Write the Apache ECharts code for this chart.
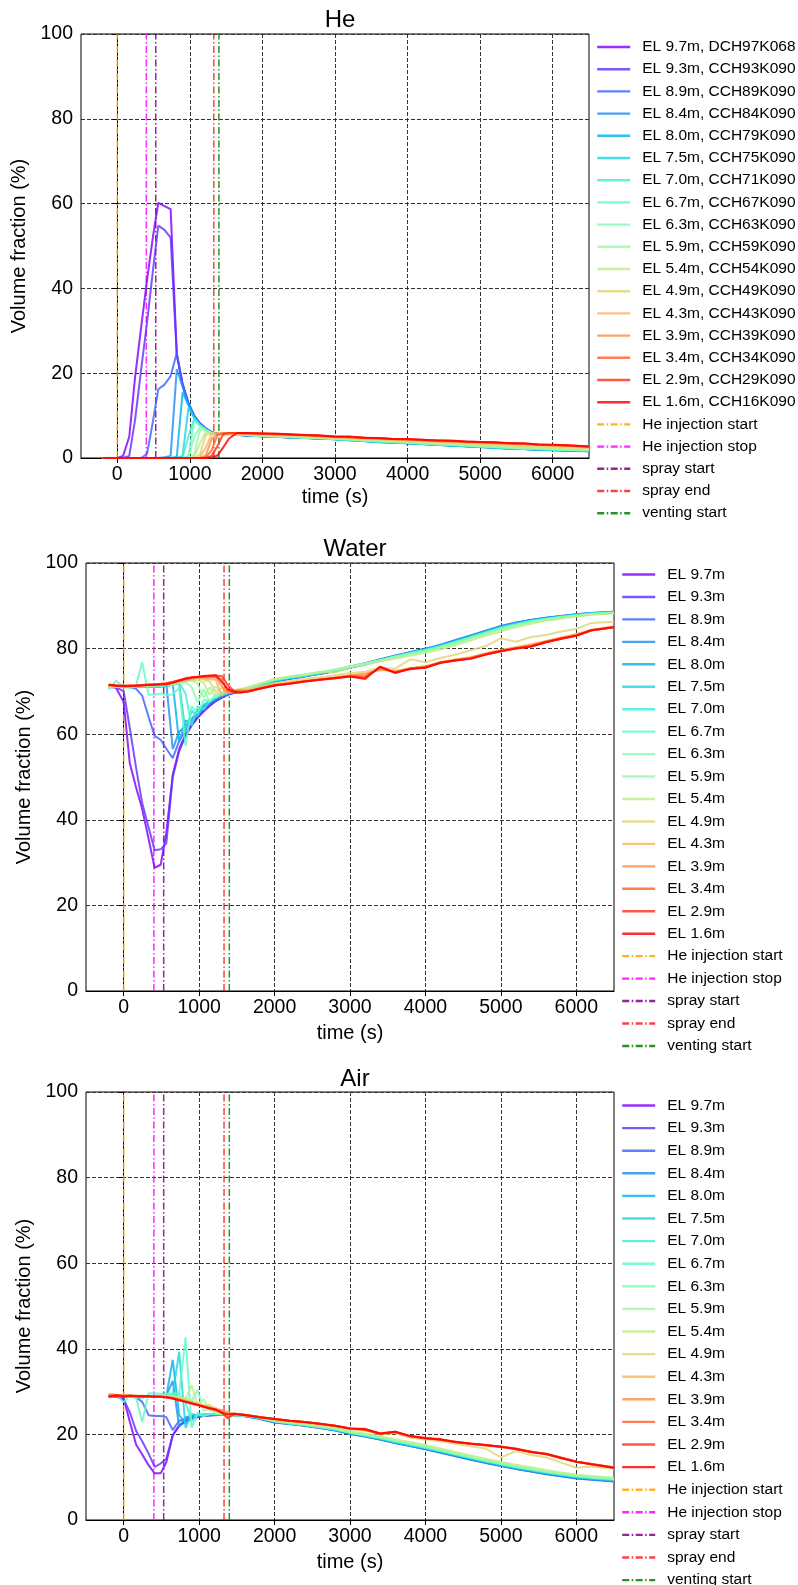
<!DOCTYPE html>
<html><head><meta charset="utf-8">
<script src="https://cdn.jsdelivr.net/npm/echarts@6/dist/echarts.min.js"></script>
<style>html,body{margin:0;padding:0;background:#fff}#c{width:798px;height:1585px}</style>
</head><body><div id="c"></div>
<script>
// ---------------- data ----------------
const time = [-200,-100,0,80,165,245,330,410,490,565,650,735,820,900,980,1060,1140,1220,1300,1380,1460,1540,
  1650,1800,2000,2200,2400,2600,2800,3000,3200,3400,3600,3800,4000,4200,4400,4600,4800,5000,5200,5400,5600,5800,6000,6200,6500];
const xTicks = [0,1000,2000,3000,4000,5000,6000];
const heights = ['9.7m','9.3m','8.9m','8.4m','8.0m','7.5m','7.0m','6.7m','6.3m','5.9m','5.4m','4.9m','4.3m','3.9m','3.4m','2.9m','1.6m'];
const heSensors = ['DCH97K068','CCH93K090','CCH89K090','CCH84K090','CCH79K090','CCH75K090','CCH71K090','CCH67K090','CCH63K090','CCH59K090','CCH54K090','CCH49K090','CCH43K090','CCH39K090','CCH34K090','CCH29K090','CCH16K090'];
const eventNames = ['He injection start','He injection stop','spray start','spray end','venting start'];
const eventTimes = [0,400,530,1330,1400];
const panelTitles = ['He','Water','Air'];

// He volume fraction (%)
const he97 = [0,0,0,0.5,5,19,31,42,52,60.2,59.4,58.7,24.5,17.5,13,10,8.2,7,6.1,5.7,5.5,5.6, 5.5,5.3,5.1,5.0,4.9,4.8,4.6,4.5,4.3,4.1,3.9,3.7,3.6,3.4,3.2,3.0,2.9,2.7,2.5,2.3,2.2,2.0,1.9,1.8,1.7];
const he93 = [0,0,0,0,0.5,9,21,32,44,54.8,53.8,52,24.2,17.3,12.9,9.9,8.1,6.9,6.1,5.7,5.5,5.6, 5.5,5.3,5.2,5.0,4.9,4.7,4.6,4.5,4.3,4.1,3.9,3.8,3.6,3.4,3.2,3.0,2.9,2.7,2.5,2.4,2.2,2.0,1.9,1.8,1.7];
const he89 = [0,0,0,0,0,0,0,1,8.5,16.2,17.3,19.3,24.8,17.2,12.8,9.8,8,6.9,6,5.7,5.5,5.5, 5.5,5.3,5.1,5.0,4.8,4.7,4.6,4.4,4.3,4.0,3.8,3.7,3.5,3.3,3.1,3.0,2.8,2.6,2.5,2.3,2.1,2.0,1.9,1.8,1.6];
const he84 = [0,0,0,0,0,0,0,0,0,0,0.2,0.5,21,16.8,12.7,9.7,8,6.8,6,5.6,5.5,5.5, 5.4,5.3,5.1,5.0,4.8,4.7,4.6,4.4,4.2,4.0,3.8,3.6,3.5,3.3,3.1,2.9,2.8,2.6,2.4,2.2,2.1,1.9,1.8,1.7,1.6];
const he80 = [0,0,0,0,0,0,0,0,0,0,0,0,0.3,15.5,12.5,9.6,7.9,6.8,6,5.6,5.5,5.5, 5.5,5.3,5.1,5.0,4.9,4.7,4.6,4.4,4.2,4.0,3.7,3.6,3.5,3.3,3.1,2.9,2.8,2.6,2.4,2.2,2.1,2.0,1.9,1.8,1.6];
const he75 = [0,0,0,0,0,0,0,0,0,0,0,0,0,0.5,11.8,9.5,7.8,6.7,5.9,5.6,5.5,5.5, 5.5,5.3,5.1,5.0,4.9,4.8,4.6,4.5,4.2,4.0,3.8,3.7,3.5,3.3,3.2,3.0,2.8,2.6,2.5,2.3,2.1,2.0,1.9,1.8,1.7];
const he70 = [0,0,0,0,0,0,0,0,0,0,0,0,0,0.2,5,9.3,7.7,6.7,5.9,5.6,5.5,5.5, 5.5,5.4,5.2,5.0,4.9,4.8,4.6,4.5,4.3,4.1,3.9,3.7,3.6,3.4,3.2,3.0,2.9,2.7,2.5,2.3,2.2,2.1,2.0,1.9,1.7];
const he67 = [0,0,0,0,0,0,0,0,0,0,0,0,0,0,0.5,8.8,7.6,6.6,5.9,5.6,5.5,5.5, 5.5,5.4,5.2,5.1,4.9,4.8,4.7,4.5,4.3,4.1,3.9,3.8,3.6,3.4,3.2,3.1,2.9,2.7,2.6,2.4,2.2,2.1,2.0,1.9,1.8];
const he63 = [0,0,0,0,0,0,0,0,0,0,0,0,0,0,0.2,5,7.4,6.5,5.8,5.6,5.5,5.5, 5.6,5.4,5.2,5.1,5.0,4.8,4.7,4.5,4.4,4.2,4.0,3.8,3.7,3.5,3.3,3.1,3.0,2.8,2.6,2.5,2.3,2.2,2.1,2.0,1.8];
const he59 = [0,0,0,0,0,0,0,0,0,0,0,0,0,0,0,0.8,6.8,6.4,5.8,5.6,5.5,5.5, 5.6,5.4,5.3,5.1,5.0,4.9,4.7,4.6,4.4,4.2,4.0,3.9,3.7,3.5,3.4,3.2,3.0,2.9,2.7,2.5,2.4,2.3,2.1,2.0,1.9];
const he54 = [0,0,0,0,0,0,0,0,0,0,0,0,0,0,0,0.2,3.5,6.2,5.8,5.6,5.5,5.5, 5.6,5.5,5.3,5.2,5.0,4.9,4.8,4.6,4.5,4.3,4.1,4.0,3.8,3.7,3.5,3.3,3.2,3.0,2.9,2.7,2.6,2.4,2.3,2.2,2.0];
const he49 = [0,0,0,0,0,0,0,0,0,0,0,0,0,0,0,0,0.8,5.5,5.8,5.7,5.6,5.6, 5.7,5.6,5.4,5.3,5.2,5.0,4.9,4.8,4.6,4.5,4.3,4.2,4.0,3.9,3.7,3.6,3.4,3.3,3.1,3.0,2.8,2.7,2.6,2.5,2.3];
const he43 = [0,0,0,0,0,0,0,0,0,0,0,0,0,0,0,0,0.2,2.5,5.6,5.8,5.7,5.7, 5.8,5.7,5.6,5.5,5.4,5.2,5.1,4.9,4.8,4.6,4.5,4.3,4.2,4.1,3.9,3.8,3.7,3.5,3.4,3.3,3.1,3.0,2.9,2.8,2.5];
const he39 = [0,0,0,0,0,0,0,0,0,0,0,0,0,0,0,0,0,0.6,4.5,5.8,5.8,5.8, 5.8,5.8,5.7,5.6,5.5,5.3,5.2,5.0,4.9,4.7,4.6,4.4,4.3,4.2,4.0,3.9,3.8,3.7,3.5,3.4,3.3,3.1,3.0,2.9,2.6];
const he34 = [0,0,0,0,0,0,0,0,0,0,0,0,0,0,0,0,0,0.2,1.8,5.5,5.9,5.9, 5.9,5.8,5.7,5.6,5.5,5.4,5.2,5.0,5.0,4.8,4.6,4.5,4.4,4.2,4.1,4.0,3.8,3.7,3.6,3.5,3.3,3.2,3.0,2.9,2.7];
const he29 = [0,0,0,0,0,0,0,0,0,0,0,0,0,0,0,0,0,0,0.5,2.8,5.6,5.9, 5.9,5.9,5.8,5.7,5.5,5.4,5.3,5.1,4.9,4.8,4.7,4.5,4.4,4.3,4.1,4.0,3.9,3.8,3.6,3.5,3.4,3.2,3.1,3.0,2.7];
const he16 = [0,0,0,0,0,0,0,0,0,0,0,0,0,0,0,0,0,0,0.1,0.6,2.5,4.6, 5.9,5.9,5.8,5.7,5.6,5.4,5.3,5.0,5.1,4.8,4.7,4.5,4.5,4.3,4.1,4.1,3.9,3.8,3.8,3.5,3.5,3.2,3.1,3.0,2.7];

// Water volume fraction (%)
const w97 = [71.2,70.8,67.5,53.3,47.5,42.5,35.5,28.8,29.5,37,50.5,56.5,60,62.2,64,65.5,66.7,67.8,68.6,69.3,69.7,69.9, 70.6,71.3,72.4,73.0,73.6,74.1,74.7,75.6,76.4,77.3,78.2,79.0,79.8,80.7,81.8,82.9,84.0,85.1,85.9,86.6,87.1,87.5,87.9,88.2,88.5];
const w93 = [71.0,71.0,70.0,61.5,52,43.9,38.2,32.9,33.1,34.5,50,56,59.6,62,63.8,65.3,66.6,67.7,68.5,69.2,69.6,69.9, 70.6,71.3,72.3,72.9,73.5,74.1,74.7,75.5,76.3,77.2,78.1,78.9,79.7,80.6,81.7,82.8,83.9,85.0,85.8,86.5,87.0,87.4,87.8,88.1,88.4];
const w89 = [71.1,71.2,71.0,71.0,70.6,69,64,59.6,58.7,56.6,54.4,58.4,61,63,64.7,66,67.1,68,68.7,69.3,69.7,69.9, 70.7,71.4,72.5,73.1,73.7,74.3,74.9,75.8,76.6,77.5,78.4,79.2,80.0,80.9,82.0,83.1,84.2,85.3,86.1,86.7,87.2,87.6,88.0,88.3,88.6];
const w84 = [71.0,71.1,71.0,71.1,71.0,71.1,71.1,71.0,71.2,71.8,56.5,60.5,62,63.6,65.2,66.4,67.3,68.2,68.9,69.4,69.8,70.0, 70.7,71.4,72.4,73.1,73.7,74.2,74.8,75.7,76.5,77.4,78.3,79.1,79.9,80.8,81.9,83.0,84.1,85.2,86.0,86.7,87.2,87.6,88.0,88.3,88.6];
const w80 = [71.2,71.0,71.1,71.0,71.2,71.1,71.0,71.2,71.1,71.3,71.8,58.2,63.2,62.5,65.5,66.6,67.5,68.3,69.0,69.5,69.8,70.0, 70.6,71.3,72.4,73.0,73.6,74.2,74.8,75.6,76.4,77.3,78.2,79.0,79.8,80.7,81.8,82.9,84.0,85.1,85.9,86.6,87.1,87.5,87.9,88.2,88.5];
const w75 = [71.0,71.1,71.2,71.1,71.0,71.2,71.1,71.0,71.2,71.2,71.6,71.8,60.5,65.5,64.2,66.9,67.8,68.5,69.2,69.6,69.9,70.1, 70.7,71.4,72.5,73.1,73.6,74.2,74.8,75.6,76.4,77.3,78.2,79.0,79.8,80.7,81.7,82.8,83.9,85.0,85.8,86.5,87.0,87.5,87.9,88.2,88.5];
const w70 = [70.8,71.0,71.2,71.0,71.1,71.0,71.2,71.1,71.3,71.3,71.5,72.0,69.5,62,66.5,65.8,67.7,68.6,69.2,69.6,70.0,70.2, 70.8,71.5,72.6,73.2,73.7,74.3,74.9,75.7,76.5,77.3,78.2,79.0,79.7,80.6,81.6,82.7,83.8,84.9,85.7,86.4,87.0,87.4,87.8,88.2,88.5];
const w67 = [70.5,72.5,71.0,70.8,71.5,76.8,69.2,69.2,69.5,69.2,69.3,70.8,57.2,66.5,64.8,68.0,67.8,69.0,69.5,69.8,70.0,70.2, 70.8,71.6,72.7,73.3,73.8,74.4,75.0,75.8,76.5,77.3,78.1,78.9,79.6,80.5,81.5,82.6,83.7,84.8,85.6,86.4,86.9,87.4,87.8,88.1,88.4];
const w63 = [71.0,71.1,71.0,71.2,71.1,71.3,71.2,71.4,71.3,71.5,71.6,72.0,72.2,71.0,67.5,70.5,67.6,69.3,69.7,70.0,70.1,70.3, 70.9,71.7,72.8,73.4,73.9,74.5,75.1,75.8,76.5,77.3,78.1,78.8,79.5,80.4,81.4,82.5,83.6,84.7,85.5,86.3,86.9,87.3,87.7,88.1,88.4];
const w59 = [71.1,71.0,71.2,71.1,71.2,71.3,71.3,71.4,71.5,71.5,71.7,72.0,72.3,72.5,71.8,68.5,71.0,68.6,69.8,70.0,70.2,70.4, 70.9,71.7,72.8,73.5,74.0,74.5,75.0,75.8,76.4,77.2,77.9,78.6,79.3,80.2,81.2,82.3,83.4,84.5,85.3,86.1,86.7,87.2,87.6,88.0,88.3];
const w54 = [71.0,71.2,71.1,71.2,71.3,71.2,71.4,71.4,71.5,71.6,71.8,72.1,72.4,72.6,72.6,72.0,69.2,71.2,69.5,70.2,70.3,70.5, 71.0,71.8,72.9,73.4,73.9,74.6,74.4,75.6,76.2,77.0,77.6,78.3,79.0,79.8,80.8,81.9,83.0,84.0,85.0,85.8,86.5,87.0,87.5,87.9,88.2];
const w49 = [71.2,71.1,71.2,71.3,71.2,71.4,71.4,71.5,71.6,71.7,71.9,72.2,72.5,72.8,72.9,72.7,72.3,69.8,70.8,69.8,70.2,70.5, 70.5,71.1,71.9,72.4,72.9,73.3,73.8,74.3,74.6,75.6,75.3,77.5,76.8,77.8,78.6,79.6,80.6,82.4,81.6,82.7,83.2,84.0,84.6,86.0,86.3];
const w43 = [71.3,71.2,71.3,71.2,71.4,71.4,71.5,71.5,71.6,71.8,72.0,72.3,72.6,72.9,73.1,73.0,72.8,72.7,69.0,70.4,70.0,70.3, 70.2,70.8,71.6,72.0,72.5,72.9,73.3,73.8,74.2,75.0,74.8,75.4,75.9,76.8,77.5,78.0,78.9,79.7,80.4,81.0,81.8,82.6,83.4,84.4,85.2];
const w39 = [71.4,71.3,71.2,71.3,71.3,71.5,71.5,71.6,71.7,71.8,72.1,72.5,72.8,73.0,73.2,73.3,73.2,73.3,71.2,69.6,70.2,70.3, 70.1,70.7,71.5,71.9,72.4,72.8,73.2,73.7,74.0,75.2,74.6,75.3,75.8,76.7,77.4,77.9,78.8,79.6,80.2,80.8,81.7,82.5,83.2,84.3,85.1];
const w34 = [71.5,71.4,71.3,71.3,71.4,71.5,71.6,71.6,71.7,71.9,72.2,72.6,72.9,73.1,73.3,73.4,73.5,73.5,72.8,70.2,69.8,70.0, 70.1,70.7,71.5,71.9,72.4,72.8,73.2,73.6,73.5,75.5,74.5,75.4,75.7,76.8,77.3,77.8,78.7,79.5,80.1,80.6,81.6,82.4,83.1,84.2,85.0];
const w29 = [71.5,71.4,71.3,71.4,71.4,71.5,71.6,71.7,71.8,71.9,72.2,72.6,73.0,73.2,73.4,73.5,73.6,73.7,73.6,71.5,70.1,69.8, 70.0,70.6,71.4,71.8,72.3,72.7,73.1,73.5,73.2,75.7,74.4,75.2,75.6,76.7,77.2,77.7,78.6,79.4,80.0,80.5,81.5,82.3,83.0,84.3,85.0];
const w16 = [71.6,71.3,71.2,71.2,71.3,71.4,71.5,71.5,71.6,71.6,72.0,72.5,73.0,73.3,73.4,73.6,73.7,73.8,72.2,70.5,69.9,69.7, 70.0,70.6,71.4,71.8,72.3,72.7,73.1,73.5,72.9,75.8,74.3,75.3,75.5,76.7,77.2,77.6,78.6,79.4,80.0,80.5,81.5,82.3,83.0,84.3,85.0];

// Air volume fraction (%)
const a97 = [28.8,28.9,28.4,23,17.6,15.3,12.8,10.9,10.9,13.5,19.8,22.0,23.2,23.8,24.2,24.4,24.5,24.6,24.7,24.7,24.6,24.5, 24.2,23.7,22.9,22.5,22.1,21.6,21.1,20.2,19.6,18.9,18.1,17.4,16.7,15.9,15.1,14.3,13.5,12.8,12.1,11.5,10.9,10.4,9.9,9.6,9.2];
const a93 = [29.0,28.8,28.2,25.2,20.8,18.4,15.5,12.4,13.2,14.3,19.8,22.0,23.0,23.6,24.0,24.3,24.4,24.5,24.6,24.6,24.5,24.4, 24.3,23.8,23.0,22.6,22.1,21.6,21.0,20.3,19.6,18.9,18.1,17.4,16.6,15.8,15.0,14.2,13.4,12.7,12.0,11.4,10.8,10.3,9.8,9.5,9.1];
const a89 = [29.0,29.1,28.8,28.9,28.7,27.6,24.5,24.3,24.3,24.0,21.0,23.2,23.6,24.0,24.2,24.4,24.5,24.6,24.6,24.6,24.5,24.4, 24.1,23.6,22.8,22.4,22.0,21.5,20.9,20.1,19.5,18.8,18.0,17.3,16.5,15.7,14.9,14.1,13.3,12.6,11.9,11.3,10.7,10.2,9.7,9.4,9.0];
const a84 = [29.1,29.0,28.8,28.8,28.7,28.7,28.8,28.9,28.9,29.0,32.5,21.8,24.0,24.3,24.5,24.6,24.6,24.7,24.7,24.6,24.5,24.4, 24.2,23.7,22.8,22.4,22.0,21.5,21.0,20.1,19.5,18.8,18.0,17.3,16.6,15.8,15.0,14.2,13.4,12.7,12.0,11.4,10.8,10.3,9.8,9.5,9.1];
const a80 = [29.0,29.1,28.9,28.8,28.8,28.7,28.8,28.9,29.0,29.0,37.4,24.5,22.5,24.4,24.5,24.6,24.7,24.7,24.7,24.6,24.5,24.4, 24.2,23.7,22.9,22.5,22.1,21.6,21.1,20.2,19.6,18.9,18.1,17.4,16.7,15.9,15.1,14.3,13.5,12.8,12.1,11.5,10.9,10.4,9.9,9.6,9.2];
const a75 = [29.0,29.0,28.8,28.9,28.8,28.8,28.9,28.9,29.0,29.1,29.2,39.3,21.5,24.8,24.4,24.6,24.7,24.7,24.7,24.6,24.5,24.4, 24.3,23.8,23.0,22.5,22.1,21.6,21.1,20.3,19.7,19.0,18.2,17.5,16.8,16.0,15.2,14.4,13.6,12.9,12.2,11.6,11.0,10.5,10.0,9.7,9.3];
const a70 = [28.9,29.0,28.9,28.8,28.9,28.8,28.9,29.0,29.0,29.1,29.3,29.5,27.5,23.0,25.0,24.6,24.7,24.8,24.7,24.6,24.5,24.4, 24.3,23.8,23.0,22.6,22.2,21.7,21.2,20.4,19.8,19.1,18.3,17.6,16.9,16.1,15.3,14.5,13.7,13.0,12.3,11.7,11.1,10.6,10.1,9.8,9.4];
const a67 = [29.5,29.3,27.5,29.0,28.5,22.9,29.6,29.6,29.5,29.5,29.6,29.5,42.7,21.6,24.8,24.2,24.8,24.7,24.7,24.6,24.5,24.5, 24.3,23.9,23.1,22.6,22.2,21.7,21.2,20.4,19.8,19.2,18.4,17.7,17.0,16.2,15.4,14.6,13.8,13.1,12.4,11.8,11.2,10.7,10.2,9.9,9.5];
const a63 = [29.0,29.1,29.0,29.0,28.9,29.0,29.0,29.0,29.1,29.1,29.0,28.8,28.5,27.8,30.5,25.5,26.0,24.8,24.7,24.6,24.5,24.5, 24.4,23.9,23.1,22.7,22.3,21.8,21.3,20.5,19.9,19.3,18.5,17.8,17.1,16.3,15.5,14.7,13.9,13.2,12.5,11.9,11.3,10.8,10.3,10.0,9.6];
const a59 = [29.1,29.0,29.1,29.0,29.0,29.0,29.1,29.0,29.0,29.0,28.9,28.7,28.3,27.8,27.2,28.2,25.5,25.8,24.9,24.6,24.5,24.5, 24.4,24.0,23.2,22.8,22.4,21.9,21.4,20.6,20.0,19.4,18.6,17.9,17.2,16.4,15.6,14.8,14.0,13.3,12.6,12.0,11.4,10.9,10.4,10.1,9.7];
const a54 = [29.0,29.1,29.0,29.1,29.0,29.1,29.0,29.0,29.0,28.9,28.8,28.6,28.2,31.5,26.8,26.5,27.0,25.2,25.5,24.7,24.6,24.5, 24.4,24.0,23.2,22.8,22.5,21.8,22.0,20.8,20.2,19.6,18.9,18.2,17.5,16.7,15.9,15.1,14.3,13.6,12.9,12.3,11.7,11.1,10.6,10.3,9.9];
const a49 = [29.2,29.0,29.1,29.0,29.1,29.0,29.0,29.0,28.9,28.9,28.7,28.5,28.0,27.6,27.2,26.8,26.6,26.2,25.0,25.2,24.8,24.6, 24.5,24.0,23.4,22.9,22.7,22.3,21.8,21.2,20.9,20.0,20.3,19.2,18.8,18.4,17.8,17.2,16.7,14.6,16.1,15.2,14.6,13.4,12.2,12.5,12.0];
const a43 = [29.1,29.2,29.0,29.1,29.0,29.0,29.0,28.9,28.9,28.8,28.6,28.3,27.9,27.5,27.1,26.7,26.3,26.0,25.7,24.5,24.9,24.6, 24.4,24.0,23.5,23.1,22.8,22.4,21.9,21.3,21.1,20.1,20.5,19.5,19.0,18.7,18.1,17.7,17.4,17.0,16.5,15.8,15.3,14.4,13.6,13.0,12.3];
const a39 = [29.3,29.1,29.0,29.1,29.0,29.0,28.9,28.9,28.8,28.7,28.5,28.2,27.8,27.4,27.0,26.6,26.2,25.9,25.6,25.2,24.6,24.7, 24.4,24.0,23.6,23.2,22.9,22.4,22.0,21.4,21.2,20.3,20.5,19.6,19.1,18.8,18.2,17.8,17.5,17.1,16.6,15.9,15.4,14.5,13.7,13.1,12.3];
const a34 = [29.0,29.2,29.1,29.0,29.0,28.9,28.9,28.8,28.8,28.7,28.5,28.1,27.7,27.3,26.9,26.5,26.1,25.8,25.4,24.0,24.6,24.8, 24.5,24.1,23.6,23.2,22.9,22.5,22.0,21.4,21.0,20.2,20.6,19.5,19.2,18.7,18.3,17.8,17.4,17.2,16.6,16.0,15.4,14.6,13.6,13.0,12.2];
const a29 = [28.9,29.2,29.0,29.1,29.0,28.9,28.9,28.9,28.8,28.7,28.4,28.0,27.6,27.2,26.8,26.4,26.0,25.7,25.1,23.7,24.9,24.7, 24.4,24.0,23.6,23.2,22.9,22.5,22.0,21.4,21.3,20.1,20.6,19.6,19.1,18.9,18.2,17.9,17.5,17.1,16.7,15.9,15.5,14.5,13.6,13.1,12.2];
const a16 = [28.8,29.0,28.8,29.0,28.9,28.9,28.9,28.8,28.8,28.7,28.4,28.0,27.6,27.2,26.9,26.5,26.1,25.8,25.0,24.7,24.8,24.6, 24.4,24.0,23.6,23.2,22.9,22.5,22.0,21.4,21.2,20.2,20.6,19.6,19.1,18.8,18.2,17.8,17.5,17.1,16.6,15.9,15.4,14.5,13.6,13.0,12.2];

const heSeries = [he97,he93,he89,he84,he80,he75,he70,he67,he63,he59,he54,he49,he43,he39,he34,he29,he16];
const waterSeries = [w97,w93,w89,w84,w80,w75,w70,w67,w63,w59,w54,w49,w43,w39,w34,w29,w16];
const airSeries = [a97,a93,a89,a84,a80,a75,a70,a67,a63,a59,a54,a49,a43,a39,a34,a29,a16];

// ---------------- style ----------------
const FONT = 'Liberation Sans, Arial, sans-serif';
function rainbow(x, a) {
  const cl = v => Math.max(0, Math.min(1, v));
  const r = cl(Math.abs(2 * x - 0.5)), g = cl(Math.sin(Math.PI * x)), b = cl(Math.cos(Math.PI * x / 2));
  return 'rgba(' + Math.round(r * 255) + ',' + Math.round(g * 255) + ',' + Math.round(b * 255) + ',' + a + ')';
}
const seriesColors = heights.map((h, i) => rainbow(i / (heights.length - 1), 0.82));
const eventColors = ['rgba(255,165,0,0.85)', 'rgba(255,0,255,0.85)', 'rgba(128,0,128,0.85)', 'rgba(255,0,0,0.75)', 'rgba(0,128,0,0.85)'];

const layout = [
  { left: 81, right: 209, top: 34, height: 424, legendLeft: 596, legendTop: 39, legendGap: 6.2, titleX: 335, titleTop: 3, yGap: 48, xGap: 29 },
  { left: 86, right: 184, top: 563, height: 428, legendLeft: 621, legendTop: 566.5, legendGap: 6.45, titleX: 350, titleTop: 532, yGap: 52, xGap: 32 },
  { left: 86, right: 184, top: 1092, height: 428, legendLeft: 621, legendTop: 1097.5, legendGap: 6.6, titleX: 350, titleTop: 1062, yGap: 52, xGap: 32 }
];
const panelData = [heSeries, waterSeries, airSeries];

const grids = [], xAxes = [], yAxes = [], titles = [], legends = [], series = [];
layout.forEach((L, p) => {
  grids.push({ left: L.left, right: L.right, top: L.top, height: L.height, show: true, borderColor: '#000', borderWidth: 1, backgroundColor: 'transparent' });
  xAxes.push({
    type: 'value', gridIndex: p, min: -500, max: 6500,
    name: 'time (s)', nameLocation: 'middle', nameGap: L.xGap,
    nameTextStyle: { fontSize: 20, color: '#000', fontFamily: FONT },
    axisLine: { show: true, onZero: false, lineStyle: { color: '#000', width: 1 } },
    axisTick: { show: true, customValues: xTicks, length: 5, inside: false, lineStyle: { color: '#000' } },
    axisLabel: { customValues: xTicks, formatter: v => String(v), fontSize: 19.5, color: '#000', fontFamily: FONT, margin: 7 },
    splitLine: { show: true, lineStyle: { color: '#333', type: [4, 2], width: 1 } }
  });
  yAxes.push({
    type: 'value', gridIndex: p, min: 0, max: 100, interval: 20,
    name: 'Volume fraction (%)', nameLocation: 'middle', nameGap: L.yGap,
    nameTextStyle: { fontSize: 20, color: '#000', fontFamily: FONT },
    axisLine: { show: true, lineStyle: { color: '#000', width: 1 } },
    axisTick: { show: true, length: 5, lineStyle: { color: '#000' } },
    axisLabel: { formatter: v => String(v), fontSize: 19.5, color: '#000', fontFamily: FONT, margin: 8 },
    splitLine: { show: true, lineStyle: { color: '#333', type: [4, 2], width: 1 } }
  });
  titles.push({ text: panelTitles[p], left: L.titleX, textAlign: 'center', top: L.titleTop,
    textStyle: { fontSize: 24, fontWeight: 'normal', color: '#000', fontFamily: FONT } });

  const names = heights.map((h, i) => p === 0 ? 'EL ' + h + ', ' + heSensors[i] : 'EL ' + h);
  legends.push({
    orient: 'vertical', left: L.legendLeft, top: L.legendTop, height: 560, padding: 0,
    itemWidth: 33, itemHeight: 14, itemGap: L.legendGap, selectedMode: false,
    itemStyle: { opacity: 0 },
    lineStyle: { width: 2.4 },
    textStyle: { fontSize: 15.5, color: '#000', fontFamily: FONT, lineHeight: 14, padding: [0, 0, 0, 7] },
    data: names.concat(eventNames)
  });

  panelData[p].forEach((arr, i) => {
    series.push({
      type: 'line', name: names[i], xAxisIndex: p, yAxisIndex: p,
      data: time.map((t, k) => [t, arr[k]]),
      symbol: 'none', showSymbol: false, silent: true, z: 3,
      lineStyle: { width: 2, color: seriesColors[i] }, itemStyle: { color: seriesColors[i] }
    });
  });
  eventTimes.forEach((t, j) => {
    series.push({
      type: 'line', name: eventNames[j], xAxisIndex: p, yAxisIndex: p,
      data: [[t, 0], [t, 100]],
      symbol: 'none', showSymbol: false, silent: true, z: 2,
      lineStyle: { width: 1.5, color: eventColors[j], type: [7, 2.5, 1.5, 2.5] }, itemStyle: { color: eventColors[j] }
    });
  });
});

const chart = echarts.init(document.getElementById('c'), null, { renderer: 'canvas' });
chart.setOption({
  animation: false, backgroundColor: '#fff',
  title: titles, grid: grids, xAxis: xAxes, yAxis: yAxes, legend: legends, series: series
});
</script>
</body></html>
